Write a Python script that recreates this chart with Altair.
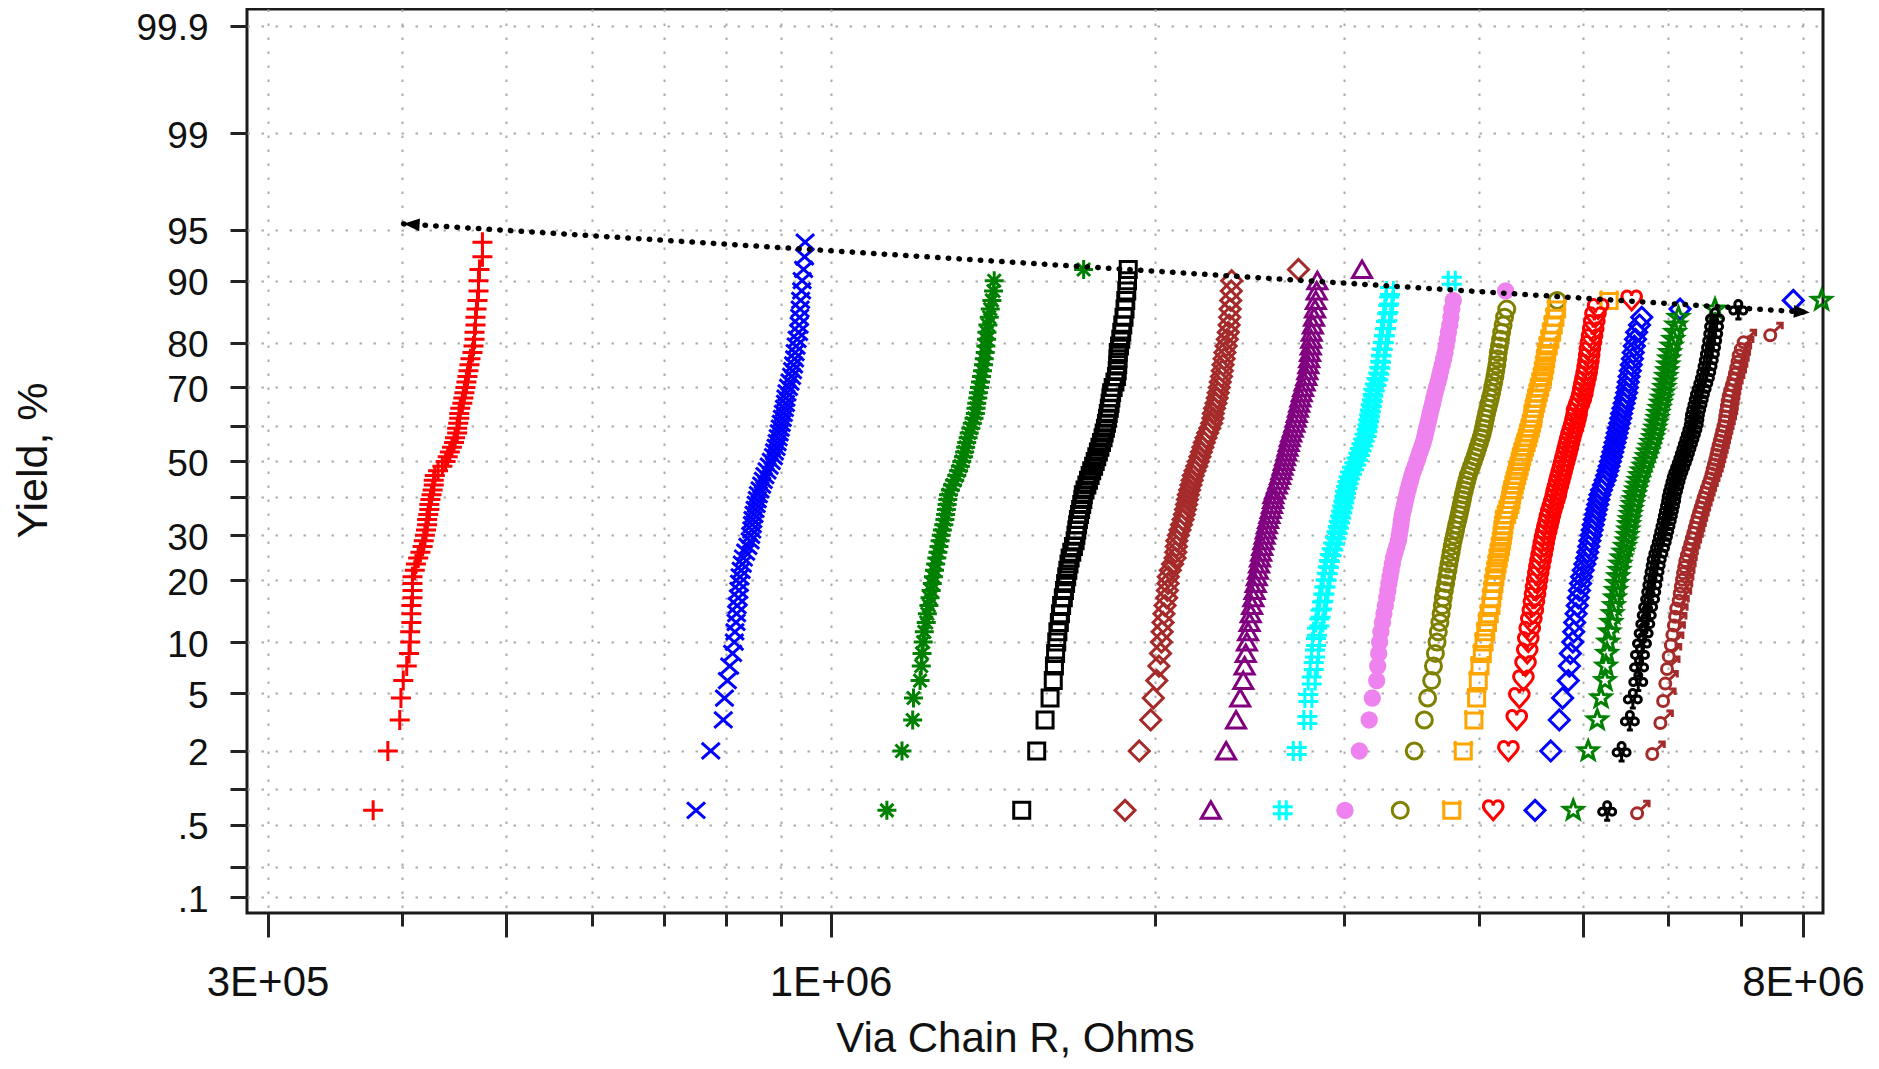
import altair as alt
import pandas as pd
from statistics import NormalDist

# ---------------- data (resistance in kOhm, sorted ascending per via chain) -------------
N_DIES = 75  # dies per wafer; plotting position = (rank - 0.5) / N_DIES

series_names = ["Chain 01", "Chain 02", "Chain 03", "Chain 04", "Chain 05",
                "Chain 06", "Chain 07", "Chain 08", "Chain 09", "Chain 10",
                "Chain 11", "Chain 12", "Chain 13", "Chain 14", "Chain 15"]

series_colors = ["#FF0000", "#0000FF", "#008000", "#000000", "#A52A2A",
                 "#800080", "#00FFFF", "#EE82EE", "#808000", "#FFA500",
                 "#FF0000", "#0000FF", "#008000", "#000000", "#A52A2A"]

r01 = [376, 388, 398, 399, 401, 404, 406, 407, 407, 408, 408, 408, 409, 409, 409, 409, 411, 412, 414, 416,
       418, 419, 420, 421, 422, 422, 423, 424, 424, 425, 426, 427, 428, 428, 429, 432, 436, 439, 441, 443,
       445, 447, 448, 450, 450, 451, 452, 452, 453, 455, 456, 457, 458, 459, 460, 461, 462, 463, 465, 466,
       467, 467, 468, 468, 469, 470, 471, 471, 472, 475, 475]
r02 = [750, 774, 795, 797, 802, 806, 811, 814, 815, 817, 818, 819, 821, 822, 823, 824, 826, 828, 830, 834,
       838, 842, 843, 845, 846, 847, 849, 851, 853, 855, 857, 860, 863, 866, 869, 873, 877, 881, 885, 887,
       890, 892, 894, 896, 898, 900, 902, 904, 906, 908, 909, 911, 914, 917, 920, 922, 924, 926, 927, 929,
       931, 934, 935, 936, 937, 938, 940, 941, 944, 946, 947]
r03 = [1128, 1165, 1192, 1194, 1211, 1214, 1216, 1219, 1222, 1227, 1230, 1234, 1237, 1240, 1243, 1246, 1249,
       1252, 1255, 1258, 1261, 1264, 1267, 1270, 1274, 1277, 1279, 1281, 1283, 1285, 1287, 1292, 1298, 1304,
       1310, 1315, 1320, 1324, 1329, 1332, 1335, 1338, 1342, 1345, 1350, 1354, 1359, 1363, 1365, 1367, 1370,
       1372, 1375, 1378, 1381, 1384, 1387, 1389, 1392, 1394, 1396, 1397, 1400, 1404, 1407, 1412, 1417, 1419,
       1718]
r04 = [1505, 1554, 1582, 1599, 1610, 1614, 1618, 1622, 1626, 1631, 1635, 1639, 1645, 1649, 1653, 1657, 1661,
       1665, 1669, 1675, 1681, 1687, 1690, 1693, 1696, 1699, 1703, 1707, 1711, 1715, 1717, 1723, 1730, 1736,
       1742, 1748, 1755, 1761, 1767, 1773, 1779, 1785, 1791, 1795, 1800, 1804, 1808, 1811, 1815, 1818, 1821,
       1824, 1830, 1837, 1843, 1846, 1848, 1849, 1850, 1855, 1860, 1864, 1868, 1873, 1877, 1880, 1884, 1887,
       1890]
r05 = [1877, 1935, 1983, 1994, 2009, 2018, 2025, 2029, 2032, 2036, 2040, 2045, 2052, 2055, 2058, 2059, 2068,
       2078, 2089, 2092, 2095, 2097, 2104, 2111, 2118, 2125, 2131, 2136, 2141, 2145, 2149, 2155, 2161, 2167,
       2172, 2180, 2188, 2196, 2203, 2210, 2217, 2224, 2232, 2240, 2250, 2259, 2265, 2267, 2273, 2280, 2286,
       2291, 2296, 2301, 2307, 2311, 2315, 2320, 2324, 2330, 2336, 2341, 2345, 2348, 2350, 2353, 2356, 2358,
       2720]
r06 = [2255, 2330, 2380, 2401, 2417, 2424, 2430, 2436, 2442, 2450, 2456, 2463, 2470, 2476, 2482, 2488, 2494,
       2500, 2505, 2511, 2517, 2523, 2530, 2536, 2542, 2549, 2556, 2563, 2570, 2576, 2578, 2587, 2597, 2606,
       2615, 2622, 2629, 2636, 2643, 2650, 2657, 2664, 2670, 2678, 2687, 2696, 2704, 2710, 2717, 2724, 2731,
       2739, 2747, 2756, 2766, 2772, 2778, 2783, 2788, 2792, 2795, 2798, 2805, 2812, 2818, 2823, 2828, 2832,
       3116]
r07 = [2630, 2710, 2772, 2778, 2798, 2810, 2818, 2824, 2830, 2844, 2852, 2860, 2868, 2875, 2882, 2889, 2896,
       2903, 2909, 2920, 2930, 2941, 2950, 2958, 2965, 2973, 2980, 2987, 2994, 3000, 3004, 3012, 3020, 3028,
       3037, 3050, 3064, 3078, 3091, 3101, 3112, 3123, 3133, 3147, 3152, 3158, 3164, 3169, 3175, 3182, 3188,
       3192, 3202, 3214, 3226, 3233, 3240, 3245, 3249, 3257, 3265, 3272, 3280, 3288, 3296, 3302, 3308, 3775]
r08 = [3004, 3098, 3164, 3185, 3215, 3222, 3229, 3235, 3244, 3255, 3265, 3275, 3285, 3293, 3300, 3308, 3316,
       3324, 3332, 3344, 3356, 3368, 3374, 3380, 3386, 3390, 3396, 3405, 3413, 3421, 3429, 3438, 3447, 3457,
       3466, 3478, 3491, 3503, 3515, 3527, 3539, 3551, 3562, 3570, 3578, 3587, 3596, 3604, 3614, 3624, 3633,
       3643, 3654, 3666, 3677, 3687, 3699, 3710, 3721, 3730, 3739, 3748, 3759, 3768, 3775, 3787, 4236]
r09 = [3381, 3484, 3560, 3585, 3616, 3630, 3645, 3658, 3668, 3680, 3690, 3700, 3707, 3716, 3726, 3735, 3744,
       3752, 3761, 3770, 3778, 3787, 3797, 3806, 3815, 3826, 3835, 3844, 3853, 3862, 3869, 3879, 3889, 3900,
       3910, 3924, 3939, 3953, 3967, 3980, 3993, 4006, 4019, 4030, 4040, 4049, 4058, 4067, 4078, 4089, 4100,
       4111, 4120, 4130, 4140, 4148, 4157, 4164, 4170, 4180, 4190, 4200, 4213, 4226, 4246, 4729]
r10 = [3775, 3869, 3958, 3981, 3995, 4010, 4030, 4045, 4060, 4075, 4090, 4105, 4112, 4122, 4131, 4140, 4150,
       4160, 4170, 4180, 4190, 4200, 4207, 4214, 4220, 4228, 4245, 4260, 4275, 4285, 4291, 4303, 4315, 4326,
       4338, 4350, 4361, 4373, 4384, 4398, 4412, 4426, 4440, 4452, 4465, 4478, 4490, 4494, 4506, 4518, 4530,
       4542, 4556, 4570, 4584, 4595, 4606, 4615, 4624, 4640, 4657, 4674, 4690, 4707, 4724, 5285]
r11 = [4125, 4261, 4338, 4362, 4400, 4420, 4436, 4446, 4460, 4475, 4490, 4500, 4511, 4521, 4532, 4542, 4553,
       4564, 4575, 4586, 4596, 4607, 4620, 4632, 4645, 4657, 4670, 4685, 4700, 4715, 4724, 4737, 4750, 4762,
       4775, 4788, 4800, 4813, 4826, 4838, 4850, 4862, 4875, 4890, 4905, 4918, 4930, 4935, 4955, 4975, 4990,
       5000, 5012, 5025, 5037, 5047, 5057, 5065, 5072, 5084, 5096, 5108, 5120, 5133, 5162, 5546]
r12 = [4511, 4665, 4751, 4785, 4843, 4855, 4865, 4890, 4900, 4910, 4925, 4937, 4948, 4960, 4972, 4983, 5000,
       5018, 5037, 5049, 5060, 5072, 5085, 5097, 5109, 5121, 5133, 5145, 5158, 5170, 5182, 5200, 5220, 5240,
       5257, 5271, 5285, 5300, 5314, 5327, 5340, 5353, 5366, 5377, 5390, 5405, 5418, 5428, 5443, 5458, 5472,
       5487, 5496, 5506, 5516, 5530, 5542, 5555, 5565, 5578, 5592, 5606, 5640, 5667, 6151, 7836]
r13 = [4895, 5054, 5153, 5195, 5239, 5250, 5262, 5275, 5290, 5310, 5325, 5340, 5352, 5364, 5377, 5389, 5402,
       5415, 5429, 5450, 5468, 5487, 5497, 5507, 5516, 5524, 5536, 5548, 5560, 5573, 5585, 5600, 5615, 5630,
       5646, 5666, 5687, 5708, 5728, 5747, 5766, 5785, 5805, 5820, 5835, 5850, 5862, 5872, 5888, 5904, 5920,
       5935, 5948, 5960, 5972, 5985, 5998, 6010, 6020, 6042, 6063, 6085, 6100, 6130, 6628, 8325]
r14 = [5263, 5428, 5525, 5560, 5625, 5635, 5646, 5670, 5690, 5710, 5728, 5745, 5769, 5783, 5797, 5810, 5824,
       5838, 5851, 5872, 5893, 5914, 5930, 5946, 5962, 5978, 5992, 6006, 6020, 6034, 6042, 6058, 6075, 6091,
       6107, 6129, 6151, 6173, 6195, 6215, 6235, 6255, 6275, 6295, 6315, 6333, 6342, 6350, 6367, 6384, 6401,
       6418, 6441, 6464, 6487, 6505, 6523, 6540, 6556, 6572, 6588, 6603, 6615, 6628, 6967]
r15 = [5647, 5833, 5935, 5970, 5998, 6020, 6042, 6070, 6090, 6110, 6125, 6140, 6172, 6186, 6201, 6216, 6231,
       6246, 6260, 6283, 6305, 6328, 6348, 6368, 6388, 6408, 6427, 6448, 6470, 6490, 6510, 6533, 6557, 6580,
       6603, 6621, 6639, 6656, 6674, 6690, 6706, 6722, 6740, 6757, 6775, 6793, 6810, 6819, 6831, 6843, 6855,
       6868, 6890, 6915, 6940, 6960, 6980, 7000, 7017, 7050, 7092, 7507]

series_values = [r01, r02, r03, r04, r05, r06, r07, r08, r09, r10, r11, r12, r13, r14, r15]

# annotation arrow (trend of yield vs resistance)
arrow_r = [401300, 8118000]
arrow_yield = [95.4, 85.47]

# axis ticks
x_tick_values = [300000, 400000, 500000, 600000, 700000, 800000, 900000,
                 1000000, 2000000, 3000000, 4000000, 5000000, 6000000, 7000000, 8000000]
x_major_ticks = [300000, 500000, 1000000, 5000000, 8000000]
x_tick_text = {300000: "3E+05", 1000000: "1E+06", 8000000: "8E+06"}

y_tick_pcts = [0.1, 0.2, 0.5, 1, 2, 5, 10, 20, 30, 40, 50, 60, 70, 80, 90, 95, 99, 99.9]
y_tick_text = [".1", "", ".5", "", "2", "5", "10", "20", "30", "", "50", "", "70", "80", "90", "95", "99", "99.9"]

# ---------------- marker glyphs ----------------
P_PLUS = "M-1,0L1,0M0,-1L0,1"
P_X = "M-0.9,-0.8L0.9,0.8M-0.9,0.8L0.9,-0.8"
P_AST = "M0,-0.95L0,0.95M-0.95,0L0.95,0M-0.65,-0.65L0.65,0.65M-0.65,0.65L0.65,-0.65"
P_SQ = "M-0.8,-0.8L0.8,-0.8L0.8,0.8L-0.8,0.8Z"
P_DIA = "M0,-1L1,0L0,1L-1,0Z"
P_TRI = "M0,-0.85L0.95,0.8L-0.95,0.8Z"
P_HASH = "M-0.35,-1L-0.35,1M0.35,-1L0.35,1M-1,-0.35L1,-0.35M-1,0.35L1,0.35"
P_CIRC = "M-0.8,0A0.8,0.8 0 1,0 0.8,0A0.8,0.8 0 1,0 -0.8,0Z"
P_BOX = "M-0.8,-1L-0.8,0.8L0.8,0.8L0.8,-1M-1,-0.7L1,-0.7"
P_HEART = ("M0,0.95L-0.8,0.05C-1.15,-0.35 -0.95,-0.95 -0.45,-0.95C-0.15,-0.95 0,-0.7 0,-0.45"
           "C0,-0.7 0.15,-0.95 0.45,-0.95C0.95,-0.95 1.15,-0.35 0.8,0.05Z")
P_STAR = ("M0,-1L0.247,-0.34L0.951,-0.309L0.399,0.13L0.588,0.809L0,0.42L-0.588,0.809"
          "L-0.399,0.13L-0.951,-0.309L-0.247,-0.34Z")
P_CLUB = ("M-0.35,-0.5A0.35,0.35 0 1,1 0.35,-0.5A0.35,0.35 0 1,1 -0.35,-0.5Z"
          "M-0.85,0.15A0.35,0.35 0 1,1 -0.15,0.15A0.35,0.35 0 1,1 -0.85,0.15Z"
          "M0.15,0.15A0.35,0.35 0 1,1 0.85,0.15A0.35,0.35 0 1,1 0.15,0.15Z"
          "M0,0.2L0,1M-0.3,1L0.3,1")
P_MARS = ("M-0.85,0.3A0.55,0.55 0 1,0 0.25,0.3A0.55,0.55 0 1,0 -0.85,0.3Z"
          "M0.1,-0.1L0.9,-0.85M0.3,-0.9L0.9,-0.9L0.9,-0.3")
series_shapes = [P_PLUS, P_X, P_AST, P_SQ, P_DIA, P_TRI, P_HASH, "circle", P_CIRC, P_BOX,
                 P_HEART, P_DIA, P_STAR, P_CLUB, P_MARS]

HEAD_L = "M0,0L2,-0.8L2,0.8Z"
HEAD_R = "M0,0L-2,-0.8L-2,0.8Z"

# ---------------- build tables ----------------
rows = []
for name, vals in zip(series_names, series_values):
    for v in vals:
        rows.append({"series": name, "R": v * 1000})
df = pd.DataFrame(rows)

arrow_df = pd.DataFrame({"R": arrow_r, "yield": arrow_yield, "end": ["left", "right"]})

nd = NormalDist()
y_tick_z = [round(nd.inv_cdf(p / 100.0), 9) for p in y_tick_pcts]
y_label_expr = "''"
for z, lab in reversed(list(zip(y_tick_z, y_tick_text))):
    y_label_expr = f"abs(datum.value - ({z})) < 1e-6 ? '{lab}' : " + y_label_expr

x_label_expr = "''"
for v, lab in reversed(list(x_tick_text.items())):
    x_label_expr = f"datum.value == {v} ? '{lab}' : " + x_label_expr
x_major_test = "indexof([" + ",".join(str(v) for v in x_major_ticks) + "], datum.value) >= 0"

FONT = "Liberation Sans"
GRID = dict(grid=True, gridDash=[2.5, 11.5], gridColor="#acacac", gridWidth=2)

x_enc = alt.X(
    "R:Q",
    scale=alt.Scale(type="log", domain=[287100, 8350000], nice=False),
    axis=alt.Axis(
        values=x_tick_values, labelExpr=x_label_expr, title="Via Chain R, Ohms",
        tickSize={"condition": {"test": x_major_test, "value": 24}, "value": 13},
        tickWidth=3, tickColor="#222222", domain=False,
        labelFont=FONT, labelFontSize=42, labelColor="#111111", labelPadding=25,
        labelOverlap=False, labelFlush=False,
        titleFont=FONT, titleFontSize=42, titleFontWeight="normal", titleColor="#111111",
        titleX=768, titleY=138, titleBaseline="alphabetic", titleAlign="center",
        **GRID,
    ),
)
y_enc = alt.Y(
    "z:Q",
    scale=alt.Scale(domain=[-3.203, 3.209], nice=False, zero=False),
    axis=alt.Axis(
        values=y_tick_z, labelExpr=y_label_expr, title="Yield, %",
        tickSize=17, tickWidth=3, tickColor="#222222", domain=False,
        labelFont=FONT, labelFontSize=37, labelColor="#111111", labelPadding=22,
        labelOffset=3, labelOverlap=False, labelFlush=False,
        titleFont=FONT, titleFontSize=43, titleFontWeight="normal", titleColor="#111111",
        titleX=-201, titleY=451, titleAngle=270, titleBaseline="alphabetic", titleAlign="center",
        **GRID,
    ),
)

base = alt.Chart(df).transform_window(
    rank="row_number()", sort=[alt.SortField("R")], groupby=["series"]
).transform_calculate(
    z=f"quantileNormal((datum.rank - 0.5) / {N_DIES})"
)

points = base.transform_filter("datum.series != 'Chain 08'").mark_point(
    filled=False, strokeWidth=3, size=400, opacity=1
).encode(
    x=x_enc, y=y_enc,
    color=alt.Color("series:N", scale=alt.Scale(domain=series_names, range=series_colors), legend=None),
    shape=alt.Shape("series:N", scale=alt.Scale(domain=series_names, range=series_shapes), legend=None),
)

violet = base.transform_filter("datum.series == 'Chain 08'").mark_point(
    filled=True, shape="circle", size=300, opacity=1, color="#EE82EE"
).encode(x=x_enc, y=y_enc)

arrow_base = alt.Chart(arrow_df).transform_calculate(z="quantileNormal(datum.yield / 100)")
arrow_line = arrow_base.mark_line(
    color="black", strokeWidth=5.5, strokeDash=[0.5, 10.2], strokeCap="round"
).encode(x=x_enc, y=y_enc)
arrow_heads = arrow_base.mark_point(
    filled=True, size=256, angle=3.6, color="black", opacity=1
).encode(
    x=x_enc, y=y_enc,
    shape=alt.Shape("end:N", scale=alt.Scale(domain=["left", "right"], range=[HEAD_L, HEAD_R]), legend=None),
)

chart = alt.layer(points, violet, arrow_line, arrow_heads).resolve_scale(shape="independent").properties(
    width=1576, height=904,
    padding={"left": 239, "top": 1, "right": 46, "bottom": 148},
    autosize=alt.AutoSizeParams(type="none"),
    background="white",
).configure_view(stroke="#1a1a1a", strokeWidth=3)

chart.save("out.html", embed_options={"renderer": "svg", "actions": False})
